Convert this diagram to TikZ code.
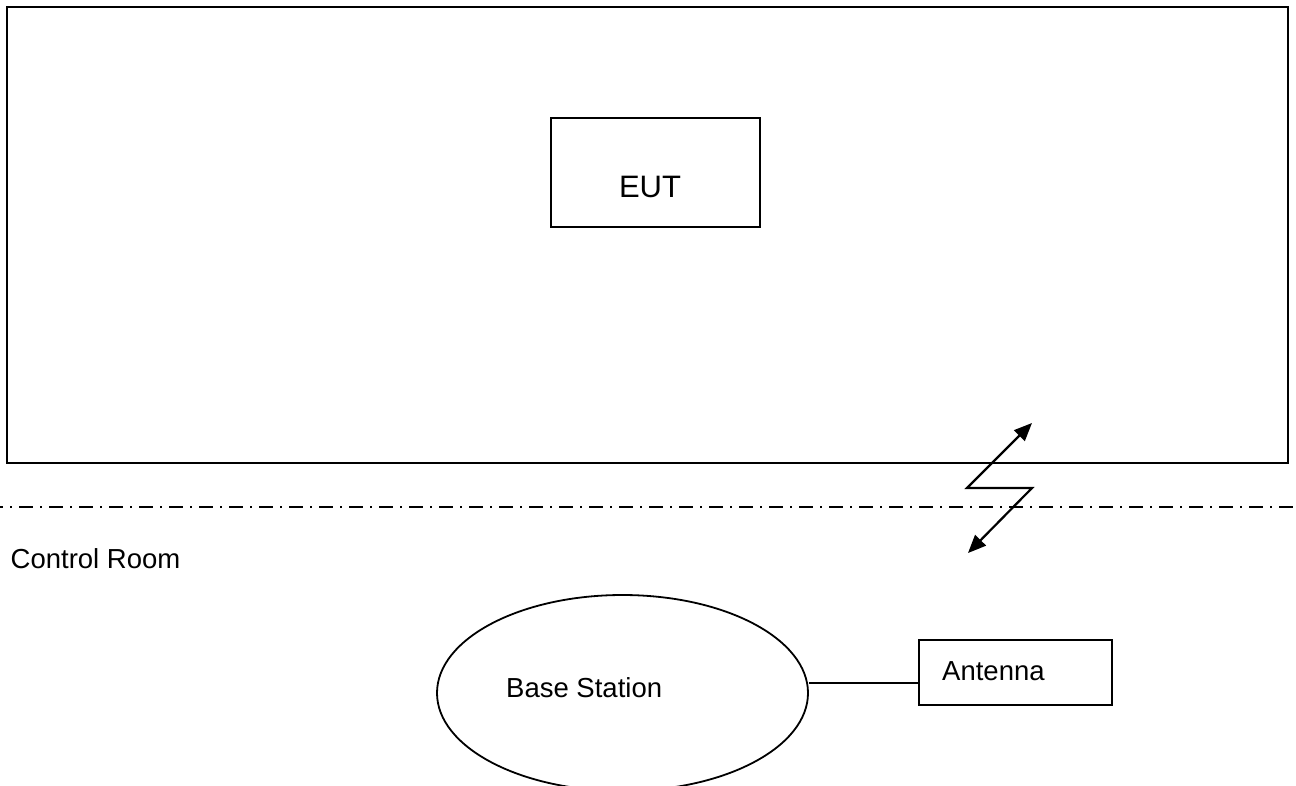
\documentclass[tikz,border=0pt]{standalone}
\usepackage{fontspec}
\setmainfont{Liberation Sans}
\usetikzlibrary{shapes.geometric,arrows.meta}

\tikzset{
  box/.style={draw, line width=1.8pt, rectangle, inner sep=0pt},
  oval/.style={draw, line width=1.8pt, ellipse, inner sep=0pt},
  txt/.style={inner sep=0pt, font=\fontsize{27.5}{33}\selectfont},
  bigtxt/.style={inner sep=0pt, font=\fontsize{31}{37}\selectfont},
  wire/.style={line width=1.8pt},
  boundary/.style={line width=1.8pt, dash pattern=on 14pt off 7pt on 2pt off 7pt, dash phase=11pt},
  radio/.style={line width=2.2pt, {Triangle[length=18pt,width=15pt]}-{Triangle[length=18pt,width=15pt]}}
}

\begin{document}
\begin{tikzpicture}[x=1pt, y=-1pt]
\useasboundingbox (0,0) rectangle (1296,785);

% test chamber with the equipment under test
\node[box, minimum width=1281pt, minimum height=456pt] (chamber) at (647.5,235) {};
\node[box, minimum width=209pt, minimum height=109pt] (eut) at (655.5,172.5) {};
\node[bigtxt, anchor=base] (euttxt) at (650,197) {EUT};

% room boundary
\coordinate (bl) at (0,507);
\coordinate (br) at (1296,507);
\draw[boundary] (bl) -- (br);

% radio link across the boundary
\coordinate (up) at (1032,423);
\coordinate (zl) at (967,488);
\coordinate (zr) at (1032,488);
\coordinate (dn) at (968,553);
\draw[radio, line join=miter] (up) -- (zl) -- (zr) -- (dn);

% control room
\node[txt, anchor=base west] (room) at (10.5,568) {Control Room};

\begin{scope}
\clip (0,0) rectangle (1296,785);
\node[oval, minimum width=371pt, minimum height=196pt] (bs) at (622.5,693) {};
\end{scope}
\node[txt, anchor=base west] (bstxt) at (506,697) {Base Station};

\node[box, minimum width=193pt, minimum height=65pt] (ant) at (1015.5,672.5) {};
\node[txt, anchor=base west] (anttxt) at (942,680) {Antenna};

\coordinate (tap) at (919,683);
\draw[wire] (tap -| bs.east) -- (tap);
\end{tikzpicture}
\end{document}
